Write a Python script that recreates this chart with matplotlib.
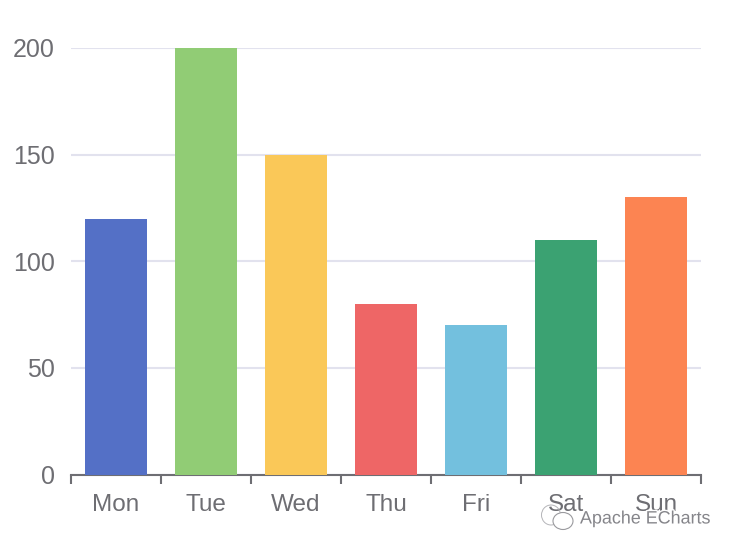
import matplotlib
matplotlib.use("Agg")
import matplotlib.pyplot as plt
import matplotlib.patheffects as pe
from matplotlib.patches import Ellipse

days = ["Mon", "Tue", "Wed", "Thu", "Fri", "Sat", "Sun"]
values = [120, 200, 150, 80, 70, 110, 130]
colores = ["#5470C6", "#91CC75", "#FAC858", "#EE6666", "#73C0DE", "#3BA272", "#FC8452"]
y_ticks = [0, 50, 100, 150, 200]

W, H = 734, 552
gris = "#6E6E73"
plt.rcParams["font.family"] = ["Liberation Sans", "DejaVu Sans"]

fig = plt.figure(figsize=(W / 100, H / 100), dpi=100)
ax = fig.add_axes([71 / W, 1 - 474.6 / H, (701 - 71) / W, (474.6 - 47.8) / H])

ax.bar(range(7), values, width=62 / 90, color=colores, zorder=3)
ax.set_xlim(-0.5, 6.5)
ax.set_ylim(0, 200)

ax.set_yticks(y_ticks)
ax.set_xticks([i - 0.5 for i in range(8)], minor=False)
ax.set_xticklabels([])
for i, d in enumerate(days):
    ax.annotate(d, (i, 0), xytext=(0, -30), textcoords="offset pixels", xycoords="data",
                ha="center", va="center", fontsize=17.5, color=gris, zorder=1,
                annotation_clip=False)

ax.grid(axis="y", color="#E2E2EE", linewidth=1.5, zorder=0)
ax.tick_params(axis="y", length=0, labelsize=18, labelcolor=gris, pad=11.5)
ax.tick_params(axis="x", length=6.5, width=1.5, color=gris, direction="out")

for s in ["top", "right", "left"]:
    ax.spines[s].set_visible(False)
ax.spines["bottom"].set_color(gris)
ax.spines["bottom"].set_linewidth(1.5)

# marca de agua: texto e icono
halo = [pe.withStroke(linewidth=2, foreground="white")]
fig.text(580 / W, 1 - 519 / H, "Apache ECharts", fontsize=12.9, color="#85858A",
         va="center", path_effects=halo, zorder=10)

over = fig.add_axes([0, 0, 1, 1], facecolor="none", zorder=5)
over.set_xlim(0, W)
over.set_ylim(H, 0)
over.axis("off")
over.add_patch(Ellipse((551, 515), 19, 20, fill=False, edgecolor="#B4B4B8", linewidth=0.7))
over.add_patch(Ellipse((563, 521), 20, 17, facecolor="white", edgecolor="#9A9A9E", linewidth=0.8))

fig.savefig("out.png", dpi=100)
